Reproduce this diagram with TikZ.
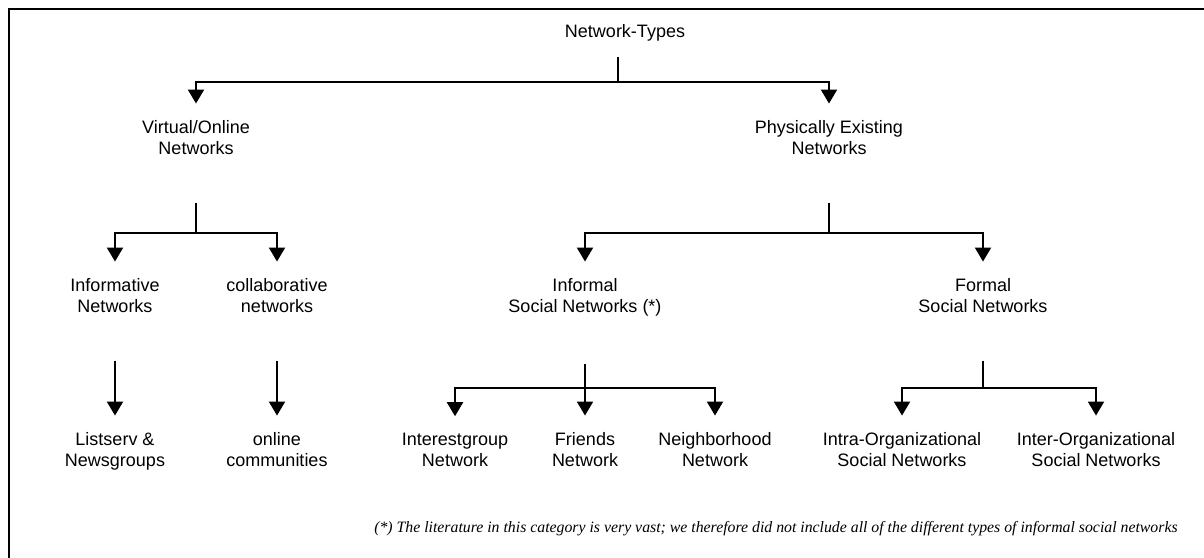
\documentclass[tikz,border=0pt]{standalone}
\usepackage{fontspec}
\setmainfont{Liberation Sans}
\newfontfamily\notefont{Liberation Serif}
\usetikzlibrary{arrows.meta}

\begin{document}
\begin{tikzpicture}[x=0.5pt, y=-0.5pt]
    \useasboundingbox (0,0) rectangle (1204,557);
    \draw [line width=0.75pt] (9,580) |- (1230,9);

    % base anchor sits on the last line
    \begin{scope}[every node/.style={align=center, inner sep=0pt, anchor=base, font=\fontsize{9}{10.5}\selectfont}]
        \node (types) at (625,37) {Network-Types};
        \node (virtual) at (196,154) {Virtual/Online\\Networks};
        \node (physical) at (829,154) {Physically Existing\\Networks};
        \node (informative) at (115,312) {Informative\\Networks};
        \node (collab) at (277,312) {collaborative\\networks};
        \node (informal) at (585,312) {Informal\\Social Networks (*)};
        \node (formal) at (983,312) {Formal\\Social Networks};
        \node (listserv) at (115,466) {Listserv \&\\Newsgroups};
        \node (online) at (277,466) {online\\communities};
        \node (interest) at (455,466) {Interestgroup\\Network};
        \node (friends) at (585,466) {Friends\\Network};
        \node (neighbor) at (715,466) {Neighborhood\\Network};
        \node (intra) at (902,466) {Intra-Organizational\\Social Networks};
        \node (inter) at (1096,466) {Inter-Organizational\\Social Networks};
    \end{scope}

    \node [anchor=base east, inner sep=0pt, font=\notefont\itshape\fontsize{7.9}{9}\selectfont] (note) at (1178,532)
        {(*) The literature in this category is very vast; we therefore did not include all of the different types of informal social networks};

    \begin{scope}[line width=1pt, tip/.style={-{Triangle[length=7pt, width=8pt]}, shorten >=8pt}, stem/.style={shorten <=24pt}]
        \coordinate (types-fork) at (618,82);
        \coordinate (virtual-fork) at (196,233);
        \coordinate (physical-fork) at (829,233);
        \coordinate (informal-fork) at (585,388);
        \coordinate (formal-fork) at (983,388);

        \draw [shorten <=8pt] (types-fork |- types.south) -- (types-fork);
        \draw [tip] (types-fork) -| (virtual);
        \draw [tip] (types-fork) -| (physical);

        \draw [stem] (virtual) -- (virtual-fork);
        \draw [tip] (virtual-fork) -| (informative);
        \draw [tip] (virtual-fork) -| (collab);

        \draw [stem] (physical) -- (physical-fork);
        \draw [tip] (physical-fork) -| (informal);
        \draw [tip] (physical-fork) -| (formal);

        \draw [stem, tip] (informative) -- (listserv);
        \draw [stem, tip] (collab) -- (online);

        \draw [stem] (informal) -- (informal-fork);
        \draw [tip] (informal-fork) -| (interest);
        \draw [tip] (informal-fork) -- (friends);
        \draw [tip] (informal-fork) -| (neighbor);

        \draw [stem] (formal) -- (formal-fork);
        \draw [tip] (formal-fork) -| (intra);
        \draw [tip] (formal-fork) -| (inter);
    \end{scope}
\end{tikzpicture}
\end{document}
